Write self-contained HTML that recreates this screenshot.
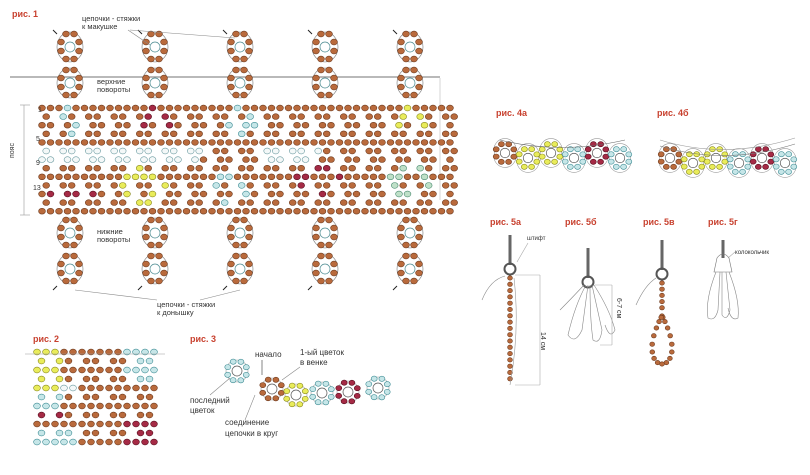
<!DOCTYPE html>
<html><head><meta charset="utf-8"><style>
html,body{margin:0;padding:0;background:#fff;width:810px;height:475px;overflow:hidden}
svg{display:block}
text{font-family:"Liberation Sans",sans-serif;fill:#333}
.r{fill:#c8402e;font-weight:bold;font-size:9px}
.t{font-size:7.5px}
</style></head><body>
<svg id="s" width="810" height="475" viewBox="0 0 810 475" xmlns="http://www.w3.org/2000/svg">
<line x1="10" y1="77" x2="440" y2="77" stroke="#444" stroke-width="0.8"/>
<line x1="440" y1="78" x2="440" y2="200" stroke="#ccc" stroke-width="0.8"/>
<line x1="24" y1="105" x2="24" y2="215" stroke="#999" stroke-width="0.6"/>
<line x1="20" y1="105" x2="30" y2="105" stroke="#999" stroke-width="0.6"/>
<line x1="20" y1="215" x2="30" y2="215" stroke="#999" stroke-width="0.6"/>
<g id="g"></g>
<text class="r" x="12" y="17">рис. 1</text>
<text class="t" x="82" y="21">цепочки - стяжки</text>
<text class="t" x="82" y="29">к макушке</text>
<text class="t" x="97" y="84">верхние</text>
<text class="t" x="97" y="92">повороты</text>
<text class="t" x="97" y="234">нижние</text>
<text class="t" x="97" y="242">повороты</text>
<text class="t" x="157" y="307">цепочки - стяжки</text>
<text class="t" x="157" y="315">к донышку</text>
<text class="t" x="14" y="150" transform="rotate(-90 14 150) translate(-8 0)" style="font-size:7px">пояс</text>
<text class="t" x="38" y="112" style="font-size:7px">1</text>
<text class="t" x="36" y="141" style="font-size:7px">5</text>
<text class="t" x="36" y="165" style="font-size:7px">9</text>
<text class="t" x="33" y="190" style="font-size:7px">13</text>
<text class="r" x="33" y="342">рис. 2</text>
<text class="r" x="190" y="342">рис. 3</text>
<text class="t" x="255" y="357" style="font-size:8px">начало</text>
<text class="t" x="300" y="355" style="font-size:8px">1-ый цветок</text>
<text class="t" x="300" y="365" style="font-size:8px">в венке</text>
<text class="t" x="190" y="403" style="font-size:8px">последний</text>
<text class="t" x="190" y="413" style="font-size:8px">цветок</text>
<text class="t" x="225" y="425" style="font-size:8px">соединение</text>
<text class="t" x="225" y="436" style="font-size:8px">цепочки в круг</text>
<text class="r" x="496" y="116">рис. 4а</text>
<text class="r" x="657" y="116">рис. 4б</text>
<text class="r" x="490" y="225">рис. 5а</text>
<text class="r" x="565" y="225">рис. 5б</text>
<text class="r" x="643" y="225">рис. 5в</text>
<text class="r" x="708" y="225">рис. 5г</text>
<text class="t" x="527" y="240" style="font-size:6px">штифт</text>
<text class="t" x="735" y="254" style="font-size:6px">колокольчик</text>
<text class="t" x="541" y="340" style="font-size:7px" transform="rotate(90 541 340) translate(-8 0)">14 см</text>
<text class="t" x="617" y="308" style="font-size:7px" transform="rotate(90 617 308) translate(-10 0)">6-7 см</text>
</svg>
<script>
var g=document.getElementById('g');var h='';
var C={b:['#b96a3c','#6e3b1f'],l:['#c6e6e8','#3f8d95'],w:['#f4f8f8','#6a9aa0'],y:['#e9ec5a','#8a8a20'],r:['#a52a45','#5a1020'],g:['#bfe0c8','#4a8a70']};
function B(x,y,c,rx,ry){c=C[c]||C.b;h+='<ellipse cx="'+x.toFixed(1)+'" cy="'+y.toFixed(1)+'" rx="'+(rx||3.4)+'" ry="'+(ry||2.9)+'" fill="'+c[0]+'" stroke="'+c[1]+'" stroke-width="0.6"/>';}
function L(d,c){h+='<path d="'+d+'" fill="none" stroke="'+(c||'#888')+'" stroke-width="0.6"/>';}
function O(x,y,r,c){h+='<circle cx="'+x+'" cy="'+y+'" r="'+r+'" fill="#fff" stroke="'+(c||'#555')+'" stroke-width="0.7"/>';}
var M=[[70,122,'l',16],[155,122,'r',16],[240,122,'l',16],[410,122,'y',16],[140,188,'y',22],[228,190,'l',20],[320,180,'r',22],[410,182,'g',22]];
function col(x,y){
 for(var i=0;i<M.length;i++){var m=M[i];var d=Math.abs(x-m[0])/1.3+Math.abs(y-m[1]);if(d<m[3]&&d>m[3]-9)return m[2];}
 if(y>=148&&y<160&&(x<200||(x>265&&x<320)))return 'w';
 if(y>186&&y<196&&x>45&&x<95)return 'r';
 return 'b';}
for(var k=0;k<13;k++){var y=108+k*8.6;var odd=k%2;
 for(var i=0;i<50;i++){var x=42+i*8.5+(odd?4.2:0); if(x>455)break;
  if(odd&&(i%3==1))continue; if(!odd&&k%4==2&&i%3==2)continue;
  B(x,y,col(x,y));}}
function ring(cx,cy,c){O(cx,cy,5,'#4a8a90');L('M'+(cx-13)+' '+cy+' a13 15 0 1 0 26 0 a13 15 0 1 0 -26 0','#777');
 var p=[[-4,-13],[4,-13],[-9,-5],[9,-5],[-9,4],[9,4],[-4,12],[4,12]];p.forEach(function(q){B(cx+q[0],cy+q[1],c||'b');});}
[70,155,240,325,410].forEach(function(cx){ring(cx,47);ring(cx,83);ring(cx,233);ring(cx,269);
 h+='<path d="M'+(cx-17)+' 30 l4 4" stroke="#222" stroke-width="1"/>';h+='<path d="M'+(cx-17)+' 290 l4 -4" stroke="#222" stroke-width="1"/>';});
L('M130 30 L235 38','#888');L('M128 30 L150 45','#888');L('M157 300 L75 290','#888');L('M200 300 L240 290','#888');
for(var k=0;k<11;k++){var y=352+k*9;for(var i=0;i<14;i++){var x=37+i*9+(k%2?4.5:0);if(x>160)break;if(k%2&&i%3==1)continue;
 var c='b';if(x<62&&y<395)c='y';else if(x>125&&y<385)c='l';else if(y>385&&y<392&&x<80)c='w';else if(y>395&&x<60&&y<410)c='l';else if(y>410&&y<420&&x<60)c='r';else if(y>425&&x<80)c='l';else if(y>420&&x>125)c='r';
 B(x,y,c);}}
L('M25 354 L165 354','#999');
function flower(cx,cy,c,s){s=s||1;O(cx,cy,5*s,'#555');L('M'+(cx-11*s)+' '+cy+' a11 11 0 1 0 '+22*s+' 0 a11 11 0 1 0 -'+22*s+' 0','#999');
 for(var a=0;a<8;a++){var t=a*Math.PI/4+0.4;B(cx+10*s*Math.cos(t),cy+10*s*Math.sin(t),c,3,2.6);}}
flower(237,371,'l');flower(272,389,'b');flower(296,395,'y');flower(322,393,'l');flower(348,392,'r');flower(378,388,'l');
L('M262 360 L262 375','#333');L('M300 367 L282 380','#888');L('M210 395 L230 378','#888');L('M245 420 L255 395','#888');
var cs=['b','y','y','l','r','l'];
for(var i=0;i<6;i++){var x=505+i*23,y=153+(i%2?5:0);flower(x,y,cs[i],0.95);}
L('M500 140 Q560 155 625 140','#666');
for(var i=0;i<6;i++){var x=670+i*23,y=158+(i%2?5:0);flower(x,y,cs[i],0.95);}
L('M660 140 Q725 160 795 138','#999');L('M660 146 Q725 166 795 144','#777');
function pin(x,y){h+='<rect x="'+(x-1.5)+'" y="'+(y-30)+'" width="3" height="30" fill="#666"/>';h+='<circle cx="'+x+'" cy="'+(y+4)+'" r="5.5" fill="none" stroke="#555" stroke-width="2"/>';}
pin(510,265);for(var k=0;k<17;k++)B(510,278+k*6.3,'b',2.4,2.2);
L('M505 276 Q490 280 482 300','#888');L('M510 385 Q520 330 514 278','#999');
L('M515 275 L540 275 M540 275 L540 385 M515 385 L540 385','#aaa');L('M517 262 L528 243','#aaa');
pin(588,278);L('M584 285 Q570 300 560 310 M586 285 Q575 305 568 335 Q575 345 582 330 L588 285 M590 285 Q590 320 593 340 Q600 345 602 330 L592 285 M594 285 Q610 310 615 330 Q610 340 605 325','#888');
L('M595 285 L612 285 M612 285 L612 345 M600 345 L612 345','#aaa');
pin(662,270);for(var k=0;k<5;k++)B(662,283+k*6.2,'b',2.4,2.2);
for(var a=0;a<18;a++){var t=a/18*Math.PI*2;var cy=Math.cos(t);B(662+13*Math.sin(t)*Math.sqrt((1-cy)/2),340-24*cy,'b',2.4,2.2);}
L('M656 278 Q645 285 636 305','#888');
h+='<rect x="721.5" y="240" width="3" height="18" fill="#666"/>';
L('M717 258 Q723 250 729 258 L732 272 L714 272 Z','#777');
L('M716 272 Q705 300 708 318 Q715 322 718 310 L720 272 M722 272 L722 315 Q727 322 730 310 L726 272 M729 272 Q740 300 738 318 Q731 322 728 308','#888');L('M728 258 L735 252','#aaa');
g.innerHTML=h;
</script>
</body></html>
